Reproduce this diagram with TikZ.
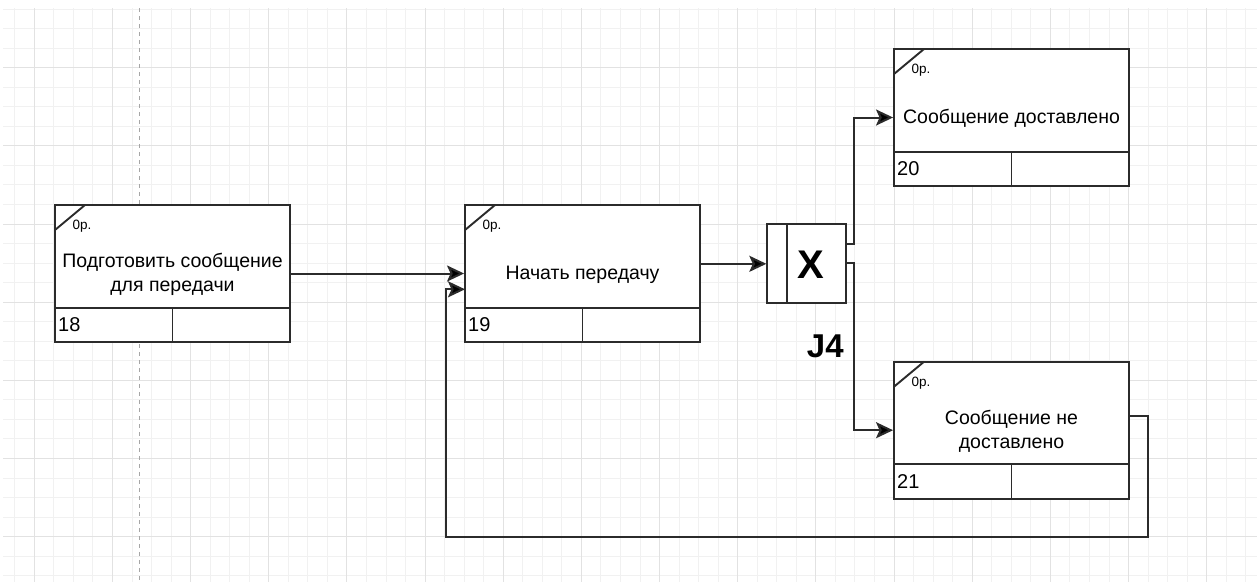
\documentclass[tikz,border=0pt]{standalone}
\usepackage{fontspec}
\setmainfont{Liberation Sans}
\usetikzlibrary{arrows.meta}
\definecolor{gminor}{HTML}{F1F1F1}
\definecolor{gmajor}{HTML}{E2E2E2}
\definecolor{ink}{HTML}{2B2B2B}
\tikzset{
  boxline/.style={draw=ink, line width=1.9pt},
  idefbox/.style={boxline, fill=white, rectangle, minimum width=235pt, minimum height=137pt, inner sep=0pt},
  jbox/.style={boxline, fill=white, rectangle, minimum width=78.7pt, minimum height=79pt, inner sep=0pt},
  lbl/.style={font=\fontsize{19.5}{23.5}\selectfont, align=center, inner sep=0pt, text=black},
  numlbl/.style={font=\fontsize{20}{24}\selectfont, inner sep=0pt, anchor=west, text=black},
  smalllbl/.style={font=\fontsize{13.5}{15}\selectfont, inner sep=0pt, text=black},
  conn/.style={draw=ink, line width=2pt},
  arr/.style={conn, -{Stealth[length=17pt, width=16pt, inset=3.5pt, fill=black]}},
}
\newcommand{\IdefBlk}[5]{%
  \node[idefbox] (#1) at (#2+117.5, #3+68.5) {};
  \draw[boxline] (#2, #3+102.7) -- (#2+235, #3+102.7);
  \draw[boxline] (#2+117.5, #3+102.7) -- (#2+117.5, #3+137);
  \draw[boxline] (#2, #3+25) -- (#2+30, #3);
  \node[smalllbl] (#1-o) at (#2+27, #3+21.5) {0р.};
  \node[lbl] (#1-t) at (#2+117.5, #3+69.5) {#4};
  \node[numlbl] (#1-n) at (#2+3, #3+119.5) {#5};
}
\begin{document}
\begin{tikzpicture}[x=1pt, y=-1pt]
\useasboundingbox (0,0) rectangle (1257,582);
\fill[white] (0,0) rectangle (1257,582);
\begin{scope}
  \clip (3,8) rectangle (1257,582);
  \foreach \k in {0,...,64} {
    \pgfmathsetmacro{\gx}{14.76+19.54*\k}
    \draw[gminor, line width=1pt] (\gx,8) -- (\gx,582);
  }
  \foreach \k in {0,...,30} {
    \pgfmathsetmacro{\gy}{9.08+19.54*\k}
    \draw[gminor, line width=1pt] (3,\gy) -- (1257,\gy);
  }
  \foreach \k in {0,...,16} {
    \pgfmathsetmacro{\gx}{34.3+78.16*\k}
    \draw[gmajor, line width=1pt] (\gx,8) -- (\gx,582);
  }
  \foreach \k in {0,...,7} {
    \pgfmathsetmacro{\gy}{67.7+78.16*\k}
    \draw[gmajor, line width=1pt] (3,\gy) -- (1257,\gy);
  }
  \draw[gray!70, line width=1pt, dash pattern=on 4pt off 4pt] (139,8) -- (139,582);
\end{scope}

\IdefBlk{b18}{55}{205}{Подготовить сообщение\\для передачи}{18}
\IdefBlk{b19}{465}{205}{Начать передачу}{19}
\IdefBlk{b20}{894}{49}{Сообщение доставлено}{20}
\IdefBlk{b21}{894}{361.7}{Сообщение не\\доставлено}{21}

\node[jbox] (j4) at (806.65,263.8) {};
\draw[boxline] (787.3,224.3) -- (787.3,303.3);
\node[font=\fontsize{40}{42}\bfseries, inner sep=0pt] (jx) at (811,264.5) {X};
\node[font=\fontsize{33}{35}\bfseries, inner sep=0pt] (jlbl) at (825.3,346) {J4};

\coordinate (jup) at (846,244);
\coordinate (jdn) at (846,262.7);
\coordinate (b21out) at (1128,416);
\coordinate (fbin) at (465,289.3);

\draw[arr] (b18.east) -- (b19.west);
\draw[arr] (b19.east |- j4.west) -- (j4.west);
\draw[arr] (jup) -- (854.3,244) |- (b20.west);
\draw[arr] (jdn) -- (854.3,262.7) |- (b21.west);
\draw[arr] (b21out) -- (1147.7,416) -- (1147.7,536.7) -- (445.7,536.7) |- (fbin);
\end{tikzpicture}
\end{document}
